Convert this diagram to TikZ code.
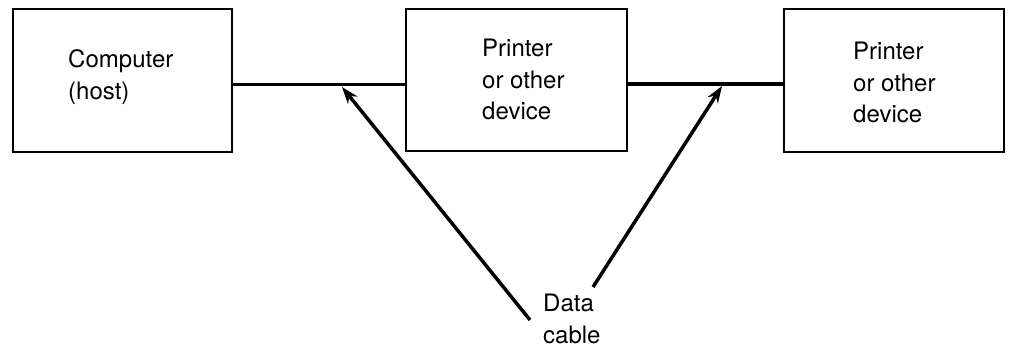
\documentclass[tikz,border=0pt]{standalone}
\usepackage{fontspec}
\setmainfont{TeX Gyre Heros}
\usetikzlibrary{arrows.meta}
\begin{document}
\begin{tikzpicture}[x=1pt,y=1pt,
  devbox/.style={draw=black, line width=1.8pt, rectangle, inner sep=0pt},
  label/.style={anchor=base west, inner sep=0pt, align=left, font=\fontsize{24}{31.5}\selectfont},
  cable/.style={line width=3.5pt},
  pointer/.style={line width=3.5pt, -{Stealth[length=17pt,width=12pt]}}]
\useasboundingbox (0,0) rectangle (1009,348);
\node[devbox, minimum width=219pt, minimum height=143pt] (b1) at (122.5,267.5) {};
\node[devbox, minimum width=221pt, minimum height=142pt] (b2) at (516.5,268) {};
\node[devbox, minimum width=220pt, minimum height=143pt] (b3) at (894,267.5) {};
\node[label] (t1) at (68,248.5) {Computer\\(host)};
\node[label] (t2) at (482,228) {Printer\\or other\\device};
\node[label] (t3) at (853,225) {Printer\\or other\\device};
\node[label] (dc) at (543,5) {Data\\cable};
\draw[cable] ([yshift=-4pt]b1.east) -- ([yshift=-4pt]b1.east -| b2.west);
\draw[cable] ([yshift=-4pt]b2.east) -- ([yshift=-4pt]b2.east -| b3.west);
\coordinate (s1) at (530,28);
\coordinate (e1) at (342,261);
\coordinate (s2) at (593,61);
\coordinate (e2) at (722,262);
\draw[pointer] (s1) -- (e1);
\draw[pointer] (s2) -- (e2);
\end{tikzpicture}
\end{document}
